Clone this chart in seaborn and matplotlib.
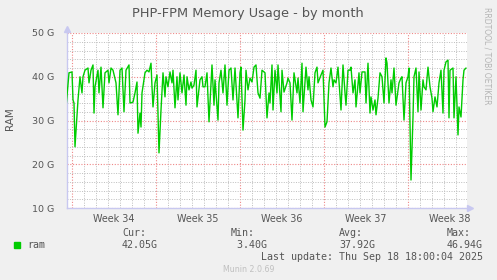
import matplotlib
matplotlib.use("Agg")
import matplotlib.pyplot as plt
import matplotlib.patches as mpatches
import seaborn as sns
import pandas as pd
from matplotlib.ticker import FixedLocator, MultipleLocator

# ---- data (hours since start of Week 34, memory in G) ----
hours = [-12, -6, 0, 2, 4, 6, 12, 16, 20, 22, 26, 32, 34, 38, 42, 44, 46, 52, 54, 58,
         62, 66, 72, 74, 78, 82, 88, 92, 96, 100, 104, 108, 114, 116, 122, 126, 130, 132,
         136, 138, 140, 146, 150, 154, 158, 160, 162, 166, 170, 174, 178, 182, 186, 188,
         192, 196, 200, 202, 206, 210, 212, 216, 220, 224, 228, 230, 234, 238, 240, 244,
         248, 250, 256, 260, 262, 266, 270, 274, 280, 284, 286, 292, 294, 298, 302, 306,
         310, 314, 318, 322, 326, 332, 336, 338, 342, 346, 348, 352, 356, 360, 364, 368,
         372, 376, 380, 386, 390, 394, 396, 400, 402, 406, 410, 412, 418, 420, 424, 430,
         432, 436, 440, 444, 450, 452, 456, 460, 462, 468, 472, 474, 478, 482, 486, 490,
         492, 498, 502, 506, 510, 514, 518, 522, 524, 528, 532, 538, 542, 546, 548, 552,
         556, 558, 562, 566, 568, 574, 576, 580, 586, 588, 592, 596, 598, 602, 606, 608,
         612, 616, 620, 624, 628, 630, 634, 638, 640, 644, 648, 654, 658, 660, 664, 668,
         672, 674, 678, 682, 684, 688, 692, 694, 698, 702, 704, 708, 712, 716, 720, 722,
         726, 730, 734, 738, 742, 744, 748, 752, 754, 756, 762, 764, 768, 772, 774, 778,
         782, 784, 788]
ram = [33.0, 40.9, 41.1, 34.7, 34.0, 24.0, 34.7, 40.0, 36.3, 40.0, 41.5, 42.0, 38.6, 41.5,
       42.7, 31.7, 37.7, 41.5, 36.3, 42.2, 32.9, 40.9, 41.5, 38.6, 42.0, 41.5, 38.6, 31.3,
       41.5, 42.0, 32.0, 41.5, 42.7, 34.0, 34.2, 36.3, 38.8, 27.1, 31.7, 28.5, 36.3, 40.9,
       41.5, 41.1, 43.1, 37.7, 33.1, 38.6, 40.4, 22.6, 32.4, 40.9, 35.4, 40.0, 37.7, 41.1,
       38.6, 41.5, 32.9, 40.0, 34.7, 40.9, 36.3, 40.4, 33.5, 40.0, 37.0, 38.8, 37.4, 38.1,
       41.5, 33.1, 39.3, 40.0, 37.7, 37.7, 40.9, 29.7, 42.7, 33.5, 39.3, 30.1, 38.6, 41.5,
       36.3, 42.7, 33.5, 41.5, 42.0, 34.7, 42.0, 30.6, 40.9, 42.2, 27.8, 34.7, 41.5, 37.0,
       39.7, 38.8, 42.2, 42.7, 36.3, 35.1, 41.5, 40.9, 30.6, 36.3, 34.0, 42.7, 32.4, 41.5,
       36.3, 42.7, 32.0, 41.5, 36.5, 38.6, 39.7, 38.6, 30.1, 40.9, 36.3, 39.7, 34.0, 43.1,
       32.0, 42.2, 37.0, 40.0, 34.7, 33.1, 40.9, 42.2, 38.6, 40.4, 41.5, 28.5, 29.7, 38.6,
       42.0, 37.7, 39.3, 38.6, 42.2, 32.4, 42.7, 36.3, 33.5, 41.5, 41.5, 42.2, 36.3, 39.3,
       33.1, 40.9, 36.3, 41.1, 41.1, 34.0, 43.1, 31.7, 35.4, 32.4, 34.7, 31.3, 35.1, 40.9,
       40.0, 34.0, 44.3, 43.1, 34.0, 39.3, 36.3, 42.0, 33.5, 38.6, 39.7, 40.0, 30.1, 38.6,
       40.0, 42.0, 16.4, 30.8, 40.0, 42.0, 32.0, 41.1, 32.4, 39.3, 37.7, 37.0, 42.2, 37.7,
       35.1, 32.0, 35.4, 33.1, 38.6, 41.5, 31.7, 41.5, 43.4, 43.8, 30.6, 41.5, 42.0, 30.6,
       40.0, 26.7, 33.1, 30.8, 39.3, 41.5, 42.0]

week_labels = ["Week 34", "Week 35", "Week 36", "Week 37", "Week 38"]
y_ticks = [10, 20, 30, 40, 50]
y_ticklabels = ["10 G", "20 G", "30 G", "40 G", "50 G"]
series_name = "ram"
stat_names = ["Cur:", "Min:", "Avg:", "Max:"]
stat_values = ["42.05G", " 3.40G", "37.92G", "46.94G"]
last_update = "Last update: Thu Sep 18 18:00:04 2025"
title = "PHP-FPM Memory Usage - by month"

df = pd.DataFrame({"hour": hours, "ram": ram})

# ---- figure ----
sns.set_style("white")
plt.rcParams["font.family"] = ["DejaVu Sans"]
W, H = 497, 280
fig = plt.figure(figsize=(W / 100, H / 100), dpi=100)
fig.patch.set_facecolor("#F0F0F0")

L, R, T, B = 67, 467, 33, 208
ax = fig.add_axes([L / W, 1 - B / H, (R - L) / W, (B - T) / H])
ax.set_facecolor("white")

GREEN = "#00CC00"
TXT = "#555555"
AXC = "#C8C8F0"

sns.lineplot(data=df, x="hour", y="ram", ax=ax, color=GREEN, linewidth=1.0, zorder=5)

ax.set_xlim(-10, 790)
ax.set_ylim(10, 50)

# grid
week_bounds = [0, 168, 336, 504, 672]
ax.xaxis.set_major_locator(FixedLocator(week_bounds))
ax.xaxis.set_minor_locator(MultipleLocator(24))
ax.yaxis.set_major_locator(FixedLocator(y_ticks))
ax.yaxis.set_minor_locator(MultipleLocator(2))
ax.set_xticklabels([""] * len(week_bounds))
ax.set_yticklabels(y_ticklabels)
ax.grid(which="major", color="#EE8888", linestyle=(0, (1, 1.5)), linewidth=0.8, zorder=1)
ax.grid(which="minor", color="#BDBDBD", linestyle=(0, (1, 1.5)), linewidth=0.7, zorder=0)
ax.set_axisbelow(True)

ax.tick_params(axis="y", which="major", labelsize=6.8, labelcolor=TXT, length=3,
               color=AXC, pad=6)
ax.tick_params(axis="y", which="minor", length=0)
ax.tick_params(axis="x", which="major", length=3, color="#EE8888")
ax.tick_params(axis="x", which="minor", length=2, color="#BDBDBD")

for s in ["top", "right"]:
    ax.spines[s].set_visible(False)
for s in ["left", "bottom"]:
    ax.spines[s].set_color(AXC)
    ax.spines[s].set_linewidth(1.0)

# axis arrows
ax.plot([0], [1.025], marker="^", markersize=4, color=AXC, transform=ax.transAxes,
        clip_on=False)
ax.plot([0, 0], [1.0, 1.025], color=AXC, lw=1.0, transform=ax.transAxes, clip_on=False)
ax.plot([1.0, 1.008], [0, 0], color=AXC, lw=1.0, transform=ax.transAxes, clip_on=False)
ax.plot([1.008], [0], marker=">", markersize=4, color=AXC, transform=ax.transAxes,
        clip_on=False)

ax.set_xlabel("")
ax.set_ylabel("")

# week labels centred between week boundaries
for i, lab in enumerate(week_labels):
    ax.text(week_bounds[i] + 84, -0.06, lab, transform=ax.get_xaxis_transform(),
            ha="center", va="center", fontsize=6.9, color=TXT)

# title / labels
fig.text(247.5 / W, 1 - 14 / H, title, ha="center", va="center", fontsize=9.3, color=TXT)
fig.text(10 / W, 1 - 119 / H, "RAM", rotation=90, ha="center", va="center",
         fontsize=7.5, color=TXT)
fig.text(487 / W, 1 - 56 / H, "RRDTOOL / TOBI OETIKER", rotation=270, ha="center",
         va="center", fontsize=5.5, color="#B4B4B4")

# legend
mono = "DejaVu Sans Mono"
fig.patches.append(mpatches.Rectangle((14 / W, 1 - 248 / H), 6 / W, 6 / H,
                                      transform=fig.transFigure, color=GREEN))
fig.text(27 / W, 1 - 245 / H, series_name, family=mono, fontsize=7.2, color=TXT,
         ha="left", va="center")
for xs, nm, val in zip([122, 231, 339, 447], stat_names, stat_values):
    fig.text(xs / W, 1 - 233 / H, nm, family=mono, fontsize=7.2, color=TXT,
             ha="left", va="center")
    fig.text(xs / W, 1 - 245 / H, val, family=mono, fontsize=7.2, color=TXT,
             ha="left", va="center")
fig.text(483 / W, 1 - 257 / H, last_update, family=mono, fontsize=7.2, color=TXT,
         ha="right", va="center")
fig.text(249 / W, 1 - 269 / H, "Munin 2.0.69", fontsize=5.7, color="#C0C0C0",
         ha="center", va="center")

fig.savefig("out.png", dpi=100, facecolor=fig.get_facecolor())
